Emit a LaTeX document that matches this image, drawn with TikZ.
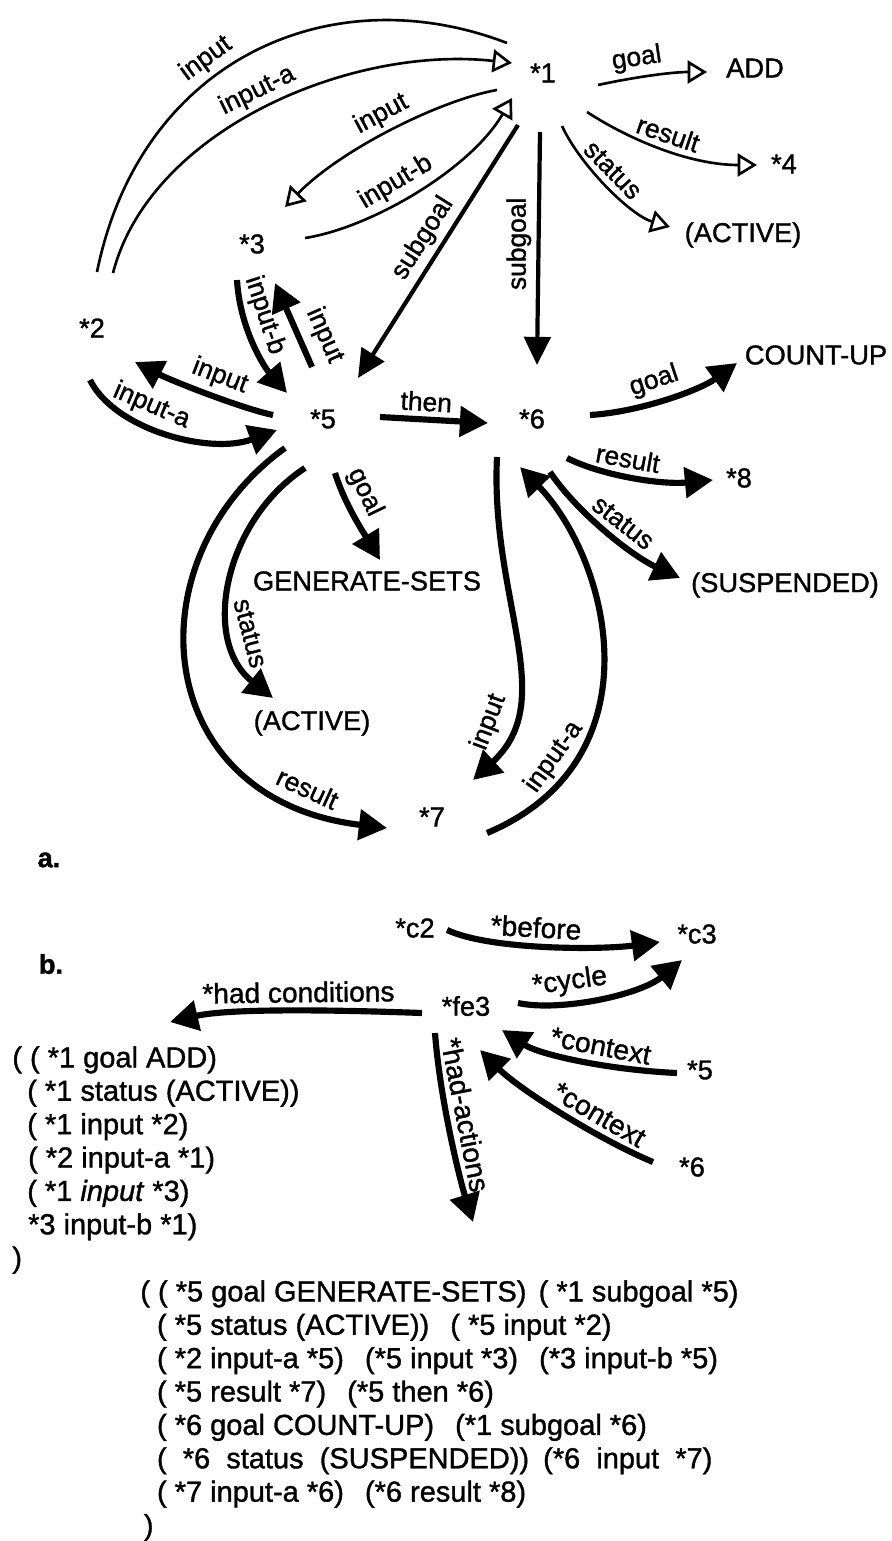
\documentclass[tikz,border=0pt]{standalone}
\usepackage{fontspec}
\setmainfont{Liberation Sans}[FakeBold=1.2]
\usetikzlibrary{arrows.meta}

\begin{document}
\begin{tikzpicture}[x=0.02cm, y=-0.02cm,
    every node/.style={font=\fontsize{15.5}{18}\selectfont, inner sep=0pt},
    lblplain/.style={font=\fontsize{15}{17}\selectfont, inner sep=3pt},
    lbl/.style={lblplain, sloped},
    lblb/.style={lbl, font=\fontsize{16}{18}\selectfont},
    hollowarc/.style={line width=1.5pt, -{Triangle[open, length=11pt, width=13pt]}},
    plainarc/.style={line width=1.5pt},
    subarc/.style={line width=2.4pt, -{Triangle[length=16pt, width=15pt]}},
    fatarc/.style={line width=3.5pt, -{Triangle[length=16pt, width=17pt]}},
    listtext/.style={font=\fontsize{16.5}{19}\selectfont, align=left, anchor=north west}]
    \useasboundingbox (0,0) rectangle (892,1541);

    \node (one) at (543,73) {*1};
    \node (add) at (755,68) {ADD};
    \node (four) at (784,164) {*4};
    \node (activeA) at (743,235) {(ACTIVE)};
    \node (three) at (252,244) {*3};
    \node (two) at (92,328) {*2};
    \node (five) at (323,419) {*5};
    \node (six) at (532,419) {*6};
    \node (countup) at (816,355) {COUNT-UP};
    \node (eight) at (739,478) {*8};
    \node (suspended) at (785,585) {(SUSPENDED)};
    \node (gensets) at (367,581) {GENERATE-SETS};
    \node (activeB) at (312,723) {(ACTIVE)};
    \node (seven) at (432,817) {*7};
    \node[font=\fontsize{15.5}{18}\selectfont\bfseries] (parta) at (49,860) {a.};

    \draw[plainarc] ([shift={(5,-56)}]two.center) .. controls (140,60) and (330,-25) .. ([shift={(-36,-30)}]one.center) node[lbl, above, pos=0.42] {input};
    \draw[hollowarc] ([shift={(21,-55)}]two.center) .. controls (150,130) and (350,45) .. ([shift={(-31,-10)}]one.center) node[lbl, above, pos=0.5] {input-a};
    \draw[hollowarc] ([shift={(-46,17)}]one.center) .. controls (440,100) and (340,150) .. ([shift={(33,-37)}]three.center) node[lbl, above, pos=0.5] {input};
    \draw[hollowarc] ([shift={(53,-6)}]three.center) .. controls (370,228) and (470,170) .. ([shift={(-31,25)}]one.center) node[lbl, above, pos=0.45] {input-b};
    \draw[subarc] ([shift={(-25,52)}]one.center) -- ([shift={(35,-41)}]five.center) node[lbl, above, pos=0.49] {subgoal};
    \draw[subarc] ([shift={(-3,59)}]one.center) -- ([shift={(5,-54)}]six.center) node[lblplain, rotate=90, anchor=south, pos=0.48] {subgoal};
    \draw[hollowarc] ([shift={(55,12)}]one.center) .. controls (630,78) and (670,72) .. ([shift={(-48,4)}]add.center) node[lbl, above, pos=0.4] {goal};
    \draw[hollowarc] ([shift={(44,39)}]one.center) .. controls (630,140) and (690,165) .. ([shift={(-27,1)}]four.center) node[lbl, above, pos=0.5] {result};
    \draw[hollowarc] ([shift={(19,53)}]one.center) .. controls (580,165) and (630,215) .. ([shift={(-73,-8)}]activeA.center) node[lbl, above, pos=0.45] {status};

    \draw[fatarc] ([shift={(-11,-52)}]five.center) -- ([shift={(23,39)}]three.center) node[lbl, above=2pt, pos=0.26] {input};
    \draw[fatarc] ([shift={(-15,36)}]three.center) .. controls (240,330) and (265,368) .. ([shift={(-36,-26)}]five.center) node[lbl, above, pos=0.3] {input-b};
    \draw[fatarc] ([shift={(-50,-4)}]five.center) .. controls (240,408) and (170,380) .. ([shift={(43,34)}]two.center) node[lbl, above, pos=0.45] {input};
    \draw[fatarc] ([shift={(-2,52)}]two.center) .. controls (115,430) and (210,455) .. ([shift={(-46,11)}]five.center) node[lbl, above, pos=0.38] {input-a};
    \draw[fatarc] ([shift={(57,-2)}]five.center) -- ([shift={(-44,4)}]six.center) node[lbl, above, pos=0.42] {then};
    \draw[fatarc] ([shift={(12,54)}]five.center) .. controls (345,505) and (365,535) .. ([shift={(13,-21)}]gensets.center) node[lbl, above, pos=0.3] {goal};
    \draw[fatarc] ([shift={(-18,49)}]five.center) .. controls (225,520) and (200,640) .. ([shift={(-39,-25)}]activeB.center) node[lbl, above, pos=0.72] {status};
    \draw[fatarc] ([shift={(-38,29)}]five.center) .. controls (130,560) and (150,800) .. ([shift={(-45,11)}]seven.center) node[lbl, above, pos=0.86] {result};
    \draw[fatarc] ([shift={(58,-4)}]six.center) .. controls (640,412) and (700,390) .. ([shift={(-79,8)}]countup.center) node[lbl, above, pos=0.45] {goal};
    \draw[fatarc] ([shift={(35,39)}]six.center) .. controls (600,475) and (660,485) .. ([shift={(-26,2)}]eight.center) node[lbl, above, pos=0.45] {result};
    \draw[fatarc] ([shift={(18,53)}]six.center) .. controls (575,510) and (630,555) .. ([shift={(-105,-7)}]suspended.center) node[lbl, above, pos=0.55] {status};
    \draw[fatarc] ([shift={(-35,38)}]six.center) .. controls (490,600) and (560,700) .. ([shift={(41,-37)}]seven.center) node[lbl, above, pos=0.8] {input};
    \draw[fatarc] ([shift={(55,16)}]seven.center) .. controls (660,760) and (610,560) .. ([shift={(-12,48)}]six.center) node[lbl, above, pos=0.22] {input-a};

    \node[font=\fontsize{15.5}{18}\selectfont\bfseries] (partb) at (51,964) {b.};
    \node (ctwo) at (415,928) {*c2};
    \node (cthree) at (697,934) {*c3};
    \node (fethree) at (466,1006) {*fe3};
    \node (fiveb) at (700,1070) {*5};
    \node (sixb) at (692,1167) {*6};
    \node[listtext] (conds) at (12,1046) {( ( *1 goal ADD)\\
        \hspace*{8.5pt}( *1 status (ACTIVE))\\
        \hspace*{8.5pt}( *1 input *2)\\
        \hspace*{9pt}( *2 input-a *1)\\
        \hspace*{8.5pt}( *1 \textit{input} *3)\\
        \hspace*{9pt}*3 input-b *1)\\
        )};
    \node[listtext] (acts) at (140,1280) {( ( *5 goal GENERATE-SETS)\hspace{7pt}( *1 subgoal *5)\\
        \hspace*{9.5pt}( *5 status (ACTIVE))\hspace{12pt}( *5 input *2)\\
        \hspace*{9.5pt}( *2 input-a *5)\hspace{12pt}(*5 input *3)\hspace{12pt}(*3 input-b *5)\\
        \hspace*{9.5pt}( *5 result *7)\hspace{12pt}(*5 then *6)\\
        \hspace*{9.5pt}( *6 goal COUNT-UP)\hspace{12pt}(*1 subgoal *6)\\
        \hspace*{9.5pt}(\ \ *6\ \ status\ \ (SUSPENDED))\hspace{8pt}(*6\ \ input\ \ *7)\\
        \hspace*{9.5pt}( *7 input-a *6)\hspace{12pt}(*6 result *8)\\
        \hspace*{2pt})};

    \draw[fatarc] ([shift={(32,2)}]ctwo.center) .. controls (490,950) and (600,950) .. ([shift={(-37,8)}]cthree.center) node[lblb, above, pos=0.45] {*before};
    \draw[fatarc] ([shift={(52,-3)}]fethree.center) .. controls (560,1012) and (640,995) .. ([shift={(-15,26)}]cthree.center) node[lblb, above, pos=0.35] {*cycle};
    \draw[fatarc] ([shift={(-23,3)}]fiveb.center) .. controls (610,1070) and (540,1055) .. ([shift={(36,24)}]fethree.center) node[lblb, above, pos=0.4] {*context};
    \draw[fatarc] ([shift={(-39,-5)}]sixb.center) .. controls (600,1140) and (520,1090) .. ([shift={(14,44)}]fethree.center) node[lblb, above, pos=0.35] {*context};
    \draw[fatarc] ([shift={(-31,27)}]fethree.center) .. controls (440,1100) and (460,1180) .. ([shift={(333,-58)}]acts.north west) node[lblb, above, pos=0.41] {*had-actions};
    \draw[fatarc] ([shift={(-44,7)}]fethree.center) .. controls (340,1010) and (230,1008) .. ([shift={(158,-24)}]conds.north west) node[lblb, above, pos=0.46] {*had conditions};

\end{tikzpicture}
\end{document}
